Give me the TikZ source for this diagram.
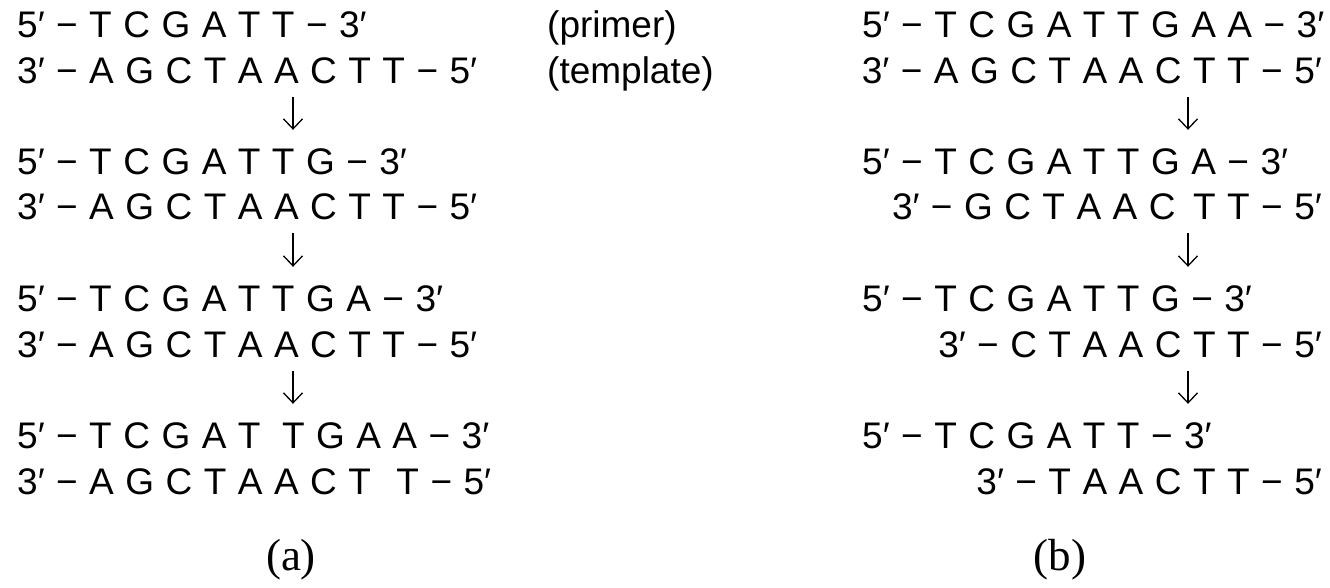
\documentclass[tikz,border=0pt]{standalone}
\usepackage{fontspec}
\usetikzlibrary{arrows.meta,calc}
\newfontfamily\dnafont{Liberation Sans}
\newfontfamily\capfont{Liberation Serif}
\newcommand{\dna}{\dnafont\fontsize{37}{41}\selectfont\spaceskip=0.31em\relax}
\tikzset{
  strand/.style={anchor=base west,inner xsep=0pt,inner ysep=14pt,text height=30pt,text depth=0pt,font=\dna},
  rstrand/.style={strand,anchor=base east},
  flow/.style={-{Straight Barb[length=10pt,width=19pt]},line width=1.3pt},
}

\begin{document}
\begin{tikzpicture}[x=1pt,y=-1pt,
  sub/.style={anchor=base,font=\capfont\fontsize{45}{49}\selectfont}]
  \useasboundingbox (0,0) rectangle (1330,587);
  % (a) primer extension
  \node[strand] (a1) at (17,37) {5′ − T C G A T T − 3′};
  \node[strand] (a2) at (17,83) {3′ − A G C T A A C T T − 5′};
  \node[strand] (lp) at (547,37) {(primer)};
  \node[strand] (lt) at (547,83) {(template)};
  \node[strand] (a3) at (17,174) {5′ − T C G A T T G − 3′};
  \node[strand] (a4) at (17,219) {3′ − A G C T A A C T T − 5′};
  \node[strand] (a5) at (17,311) {5′ − T C G A T T G A − 3′};
  \node[strand] (a6) at (17,357) {3′ − A G C T A A C T T − 5′};
  \node[strand] (a7) at (17,448) {5′ − T C G A T\hspace{10pt} T G A A − 3′};
  \node[strand] (a8) at (17,494) {3′ − A G C T A A C T\hspace{14pt} T − 5′};
  \coordinate (ax) at (293,0);
  \foreach \u/\v in {a2/a3,a4/a5,a6/a7} \draw[flow] (\u.south -| ax) -- (\v.north -| ax);
  \node[sub] (la) at (291,570) {(a)};
  % (b) template digestion
  \node[strand] (b1) at (862,37) {5′ − T C G A T T G A A − 3′};
  \node[rstrand] (b2) at (1322,83) {3′ − A G C T A A C T T − 5′};
  \node[strand] (b3) at (862,174) {5′ − T C G A T T G A − 3′};
  \node[rstrand] (b4) at (1322,219) {3′ − G C T A A C\hspace{6pt} T T − 5′};
  \node[strand] (b5) at (862,311) {5′ − T C G A T T G − 3′};
  \node[rstrand] (b6) at (1322,357) {3′ − C T A A C T T − 5′};
  \node[strand] (b7) at (862,448) {5′ − T C G A T T − 3′};
  \node[rstrand] (b8) at (1322,494) {3′ − T A A C T T − 5′};
  \coordinate (bx) at (1188,0);
  \foreach \u/\v in {b2/b3,b4/b5,b6/b7} \draw[flow] (\u.south -| bx) -- (\v.north -| bx);
  \node[sub] (lb) at (1060,570) {(b)};
\end{tikzpicture}
\end{document}
